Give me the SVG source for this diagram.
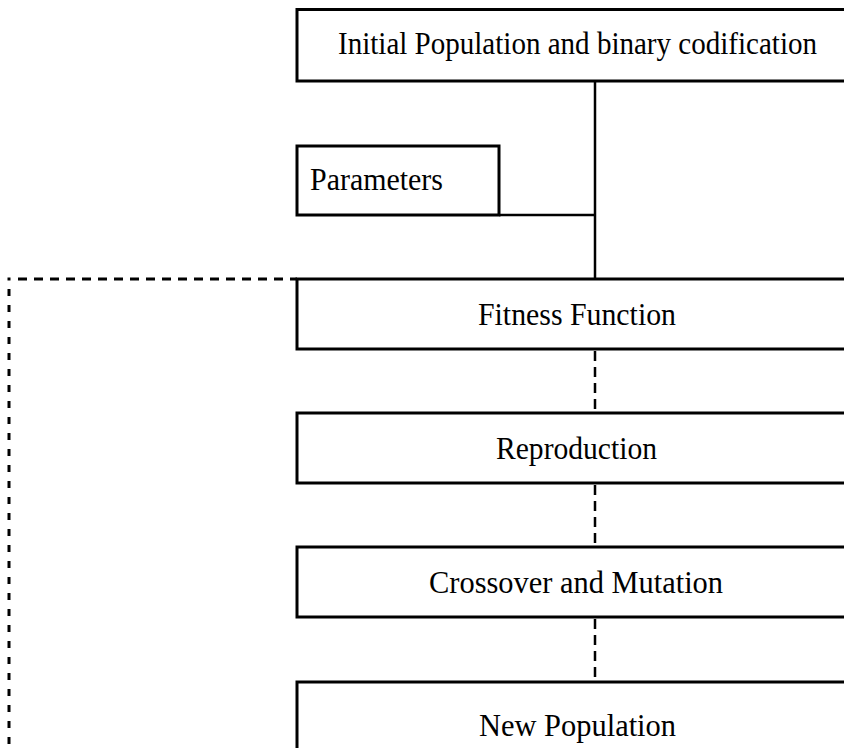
<svg xmlns="http://www.w3.org/2000/svg" width="844" height="748" viewBox="0 0 844 748">
<style>
.box{fill:#fff;stroke:#000;stroke-width:3}
.lbl{font-family:"Liberation Serif","Times New Roman",serif;font-size:29px;fill:#000}
.solid{fill:none;stroke:#000;stroke-width:2.5}
.dash{fill:none;stroke:#000;stroke-width:2.5;stroke-dasharray:10 6}
.dashL{fill:none;stroke:#000;stroke-width:3}
</style>
<rect x="0" y="0" width="844" height="748" fill="#fff"/>
<g id="connectors">
<line class="solid" x1="595" y1="81" x2="595" y2="279"/>
<line class="solid" x1="499" y1="215" x2="595" y2="215"/>
<line class="dash" x1="595" y1="351" x2="595" y2="413"/>
<line class="dash" x1="595" y1="485" x2="595" y2="547"/>
<line class="dash" x1="595" y1="619" x2="595" y2="682"/>
<line class="dashL" x1="18" y1="279" x2="297" y2="279" stroke-dasharray="9 7"/>
<line class="dashL" x1="9" y1="277.5" x2="9" y2="280.5"/>
<line class="dashL" x1="9" y1="289" x2="9" y2="748" stroke-dasharray="7 9"/>
</g>
<g id="node-initial">
<rect class="box" x="297" y="9.5" width="549" height="71.5"/>
<text class="lbl" transform="translate(338 54) scale(1 1.1)" textLength="479" lengthAdjust="spacingAndGlyphs">Initial Population and binary codification</text>
</g>
<g id="node-parameters">
<rect class="box" x="297" y="146" width="202" height="69"/>
<text class="lbl" transform="translate(310 190) scale(1 1.1)" textLength="133" lengthAdjust="spacingAndGlyphs">Parameters</text>
</g>
<g id="node-fitness">
<rect class="box" x="297" y="279" width="549" height="70"/>
<text class="lbl" transform="translate(478 325) scale(1 1.1)" textLength="198" lengthAdjust="spacingAndGlyphs">Fitness Function</text>
</g>
<g id="node-reproduction">
<rect class="box" x="297" y="413" width="549" height="70"/>
<text class="lbl" transform="translate(496 459) scale(1 1.1)" textLength="161" lengthAdjust="spacingAndGlyphs">Reproduction</text>
</g>
<g id="node-crossover">
<rect class="box" x="297" y="547" width="549" height="70"/>
<text class="lbl" transform="translate(429 593) scale(1 1.1)" textLength="294" lengthAdjust="spacingAndGlyphs">Crossover and Mutation</text>
</g>
<g id="node-newpop">
<rect class="box" x="297" y="682" width="549" height="70"/>
<text class="lbl" transform="translate(479 736) scale(1 1.1)" textLength="197" lengthAdjust="spacingAndGlyphs">New Population</text>
</g>
</svg>
